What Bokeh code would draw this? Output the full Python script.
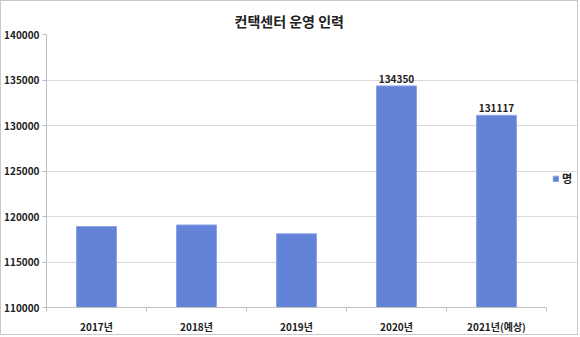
from bokeh.plotting import figure
from bokeh.models import (ColumnDataSource, Range1d, FixedTicker, LabelSet, Legend, LegendItem,
                          BasicTickFormatter)
from bokeh.core.properties import value
from bokeh.embed import file_html
from bokeh.resources import INLINE

title_text = "컨택센터 운영 인력"
categories = ["2017년", "2018년", "2019년", "2020년", "2021년(예상)"]
values = [118900, 119070, 118100, 134350, 131117]
data_labels = ["", "", "", "134350", "131117"]
series_name = "명"
y_ticks = [110000, 115000, 120000, 125000, 130000, 135000, 140000]

FONT = "Noto Sans CJK KR"
BAR = "#6283d8"
N = len(categories)

xs = [i + 0.5 for i in range(N)]
src = ColumnDataSource(dict(x=xs, top=values, lab=data_labels, cat=categories))

# frame spans to the right edge so the legend can sit right of the category area
p = figure(width=578, height=335, output_backend="svg", toolbar_location=None,
           x_range=Range1d(0, N * 533 / 500), y_range=Range1d(y_ticks[0], y_ticks[-1]),
           min_border_left=45, min_border_right=0, min_border_top=33, min_border_bottom=28)
p.styles = {"border": "1px solid #c8c8c8"}
p.outline_line_color = None
p.background_fill_color = "white"
p.border_fill_color = "white"

p.title.text = title_text
p.title.align = "left"
p.title.offset = 188
p.title.text_font = FONT
p.title.text_font_size = "14px"
p.title.text_font_style = "bold"
p.title.text_color = "#222222"
p.title.standoff = 8

r = p.vbar(x="x", top="top", bottom=y_ticks[0], width=0.4, source=src,
           fill_color=BAR, line_color="#8ea4e6", line_width=1)

p.add_layout(LabelSet(x="x", y="top", text="lab", source=src, y_offset=3,
                      text_align="center", text_baseline="bottom",
                      text_font=value(FONT),
                      text_font_size="10px", text_font_style="bold", text_color="#222222"))

# y axis
p.yaxis.ticker = FixedTicker(ticks=y_ticks)
p.yaxis.formatter = BasicTickFormatter(use_scientific=False)
p.yaxis.major_label_text_font = FONT
p.yaxis.major_label_text_font_size = "10px"
p.yaxis.major_label_text_font_style = "bold"
p.yaxis.major_label_text_color = "#222222"
p.yaxis.axis_line_color = "#c0c0c0"
p.yaxis.major_tick_line_color = "#c0c0c0"
p.yaxis.major_tick_out = 4
p.yaxis.major_tick_in = 0
p.yaxis.minor_tick_line_color = None
p.yaxis.major_label_standoff = 3

# x axis
p.xaxis.ticker = FixedTicker(ticks=xs, minor_ticks=list(range(N + 1)))
p.xaxis.major_label_overrides = {x: c for x, c in zip(xs, categories)}
p.xaxis.bounds = (0, N)
p.xaxis.major_label_text_font = FONT
p.xaxis.major_label_text_font_size = "10px"
p.xaxis.major_label_text_font_style = "bold"
p.xaxis.major_label_text_color = "#222222"
p.xaxis.axis_line_color = "#c0c0c0"
p.xaxis.major_tick_line_color = None
p.xaxis.minor_tick_line_color = "#c0c0c0"
p.xaxis.minor_tick_out = 4
p.xaxis.minor_tick_in = 0
p.xaxis.major_label_standoff = 5

p.xgrid.grid_line_color = None
p.ygrid.ticker = FixedTicker(ticks=y_ticks)
p.ygrid.bounds = (0, N)
p.ygrid.grid_line_color = "#d9d9d9"

legend = Legend(items=[LegendItem(label=series_name, renderers=[r])],
                location=(506, 121), orientation="vertical",
                glyph_width=7, glyph_height=7, label_standoff=3,
                padding=2, margin=0, spacing=0,
                border_line_color=None, background_fill_alpha=0,
                label_text_font=FONT, label_text_font_size="11px",
                label_text_font_style="bold",
                label_text_color="#222222", label_height=12)
p.add_layout(legend)

open("out.html", "w").write(file_html(p, INLINE))
